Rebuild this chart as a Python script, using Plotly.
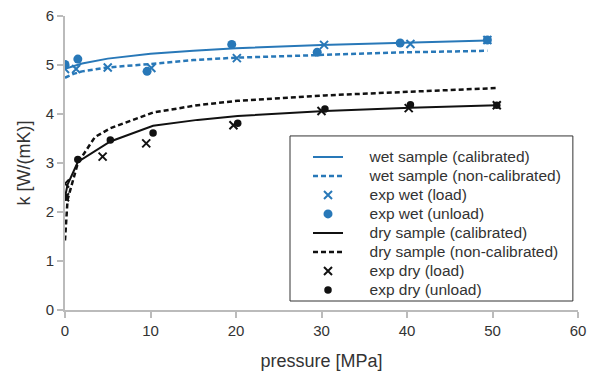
import plotly.graph_objects as go

BLUE = "#2878b8"
BLACK = "#111111"

# wet sample model curves
wet_cal_x = [0, 1, 2, 5, 10, 15, 20, 30, 40, 49.4]
wet_cal_y = [4.92, 4.98, 5.03, 5.13, 5.23, 5.29, 5.34, 5.41, 5.46, 5.50]
wet_non_x = [0, 1, 2, 5, 10, 15, 20, 30, 40, 49.4]
wet_non_y = [4.74, 4.82, 4.87, 4.95, 5.02, 5.10, 5.15, 5.21, 5.26, 5.29]

# wet experiments
wet_load_x = [0, 1.3, 5.0, 10.1, 20.1, 30.3, 40.4, 49.4]
wet_load_y = [4.92, 4.92, 4.95, 4.94, 5.14, 5.41, 5.43, 5.51]
wet_unload_x = [0, 1.5, 9.6, 19.5, 29.5, 39.2, 49.4]
wet_unload_y = [5.01, 5.12, 4.87, 5.42, 5.26, 5.45, 5.51]

# dry sample model curves
dry_cal_x = [0, 0.3, 1.5, 5.3, 10.3, 15.5, 20.2, 30.4, 40.4, 50.5]
dry_cal_y = [2.3, 2.56, 3.02, 3.44, 3.76, 3.88, 3.96, 4.06, 4.13, 4.18]
dry_non_x = [0, 0.3, 1.5, 3.5, 5.3, 10.3, 15.5, 20.2, 30.4, 40.4, 50.5]
dry_non_y = [1.42, 2.25, 3.0, 3.53, 3.71, 4.03, 4.18, 4.27, 4.38, 4.46, 4.53]

# dry experiments
dry_load_x = [0, 0, 4.4, 9.5, 19.7, 30.0, 40.2, 50.5]
dry_load_y = [2.58, 2.3, 3.13, 3.40, 3.77, 4.06, 4.12, 4.18]
dry_unload_x = [0, 1.5, 5.3, 10.3, 20.2, 30.4, 40.4, 50.5]
dry_unload_y = [2.3, 3.07, 3.47, 3.61, 3.81, 4.10, 4.19, 4.18]

x_ticks = [0, 10, 20, 30, 40, 50, 60]
y_ticks = [0, 1, 2, 3, 4, 5, 6]

legend_names = [
    "wet sample (calibrated)",
    "wet sample (non-calibrated)",
    "exp wet (load)",
    "exp wet (unload)",
    "dry sample (calibrated)",
    "dry sample (non-calibrated)",
    "exp dry (load)",
    "exp dry (unload)",
]


def lname(s):
    return '<span style="font-size:15.5px">' + "\u00a0" * 5 + s + "</span>"


fig = go.Figure()
fig.add_trace(go.Scatter(x=wet_cal_x, y=wet_cal_y, mode="lines",
                         line=dict(color=BLUE, width=2),
                         name=lname(legend_names[0])))
fig.add_trace(go.Scatter(x=wet_non_x, y=wet_non_y, mode="lines",
                         line=dict(color=BLUE, width=2.5, dash="5px,3px"),
                         name=lname(legend_names[1])))
fig.add_trace(go.Scatter(x=wet_load_x, y=wet_load_y, mode="markers",
                         marker=dict(symbol="x-thin", size=8, color=BLUE,
                                     line=dict(color=BLUE, width=2)),
                         name=lname(legend_names[2])))
fig.add_trace(go.Scatter(x=wet_unload_x, y=wet_unload_y, mode="markers",
                         marker=dict(symbol="circle", size=9, color=BLUE),
                         name=lname(legend_names[3])))
fig.add_trace(go.Scatter(x=dry_cal_x, y=dry_cal_y, mode="lines",
                         line=dict(color=BLACK, width=2),
                         name=lname(legend_names[4])))
fig.add_trace(go.Scatter(x=dry_non_x, y=dry_non_y, mode="lines",
                         line=dict(color=BLACK, width=2.5, dash="5px,3px"),
                         name=lname(legend_names[5])))
fig.add_trace(go.Scatter(x=dry_load_x, y=dry_load_y, mode="markers",
                         marker=dict(symbol="x-thin", size=8, color=BLACK,
                                     line=dict(color=BLACK, width=2)),
                         name=lname(legend_names[6])))
fig.add_trace(go.Scatter(x=dry_unload_x, y=dry_unload_y, mode="markers",
                         marker=dict(symbol="circle", size=7.5, color=BLACK),
                         name=lname(legend_names[7])))

axis_common = dict(showgrid=False, zeroline=False, showline=True,
                   linecolor="#bbbbbb", linewidth=2, ticks="outside",
                   tickcolor="#bbbbbb", ticklen=6, tickwidth=2,
                   automargin=False,
                   tickfont=dict(size=15, color="#333333"))

fig.update_layout(
    width=589, height=372,
    margin=dict(l=65, r=11, t=16, b=62),
    paper_bgcolor="white", plot_bgcolor="white",
    font=dict(family="Liberation Sans, Arial, sans-serif", color="#333333"),
    xaxis=dict(range=[0, 60], tickvals=x_ticks, **axis_common,
               title=dict(text="pressure [MPa]", font=dict(size=18), standoff=16)),
    yaxis=dict(range=[0, 6], tickvals=y_ticks, **axis_common,
               title=dict(text="k [W/(mK)]", font=dict(size=18), standoff=10)),
    legend=dict(x=0.4737, y=0.570, xanchor="left", yanchor="top",
                bgcolor="rgba(0,0,0,0)", borderwidth=0,
                font=dict(size=12, color="#333333"), tracegroupgap=0),
    showlegend=True,
    shapes=[dict(type="rect", xref="paper", yref="paper",
                 x0=0.4386, x1=0.990, y0=0.0306, y1=0.592,
                 line=dict(color="#333333", width=1), fillcolor="white",
                 layer="below")],
)

fig.write_html("out.html")
